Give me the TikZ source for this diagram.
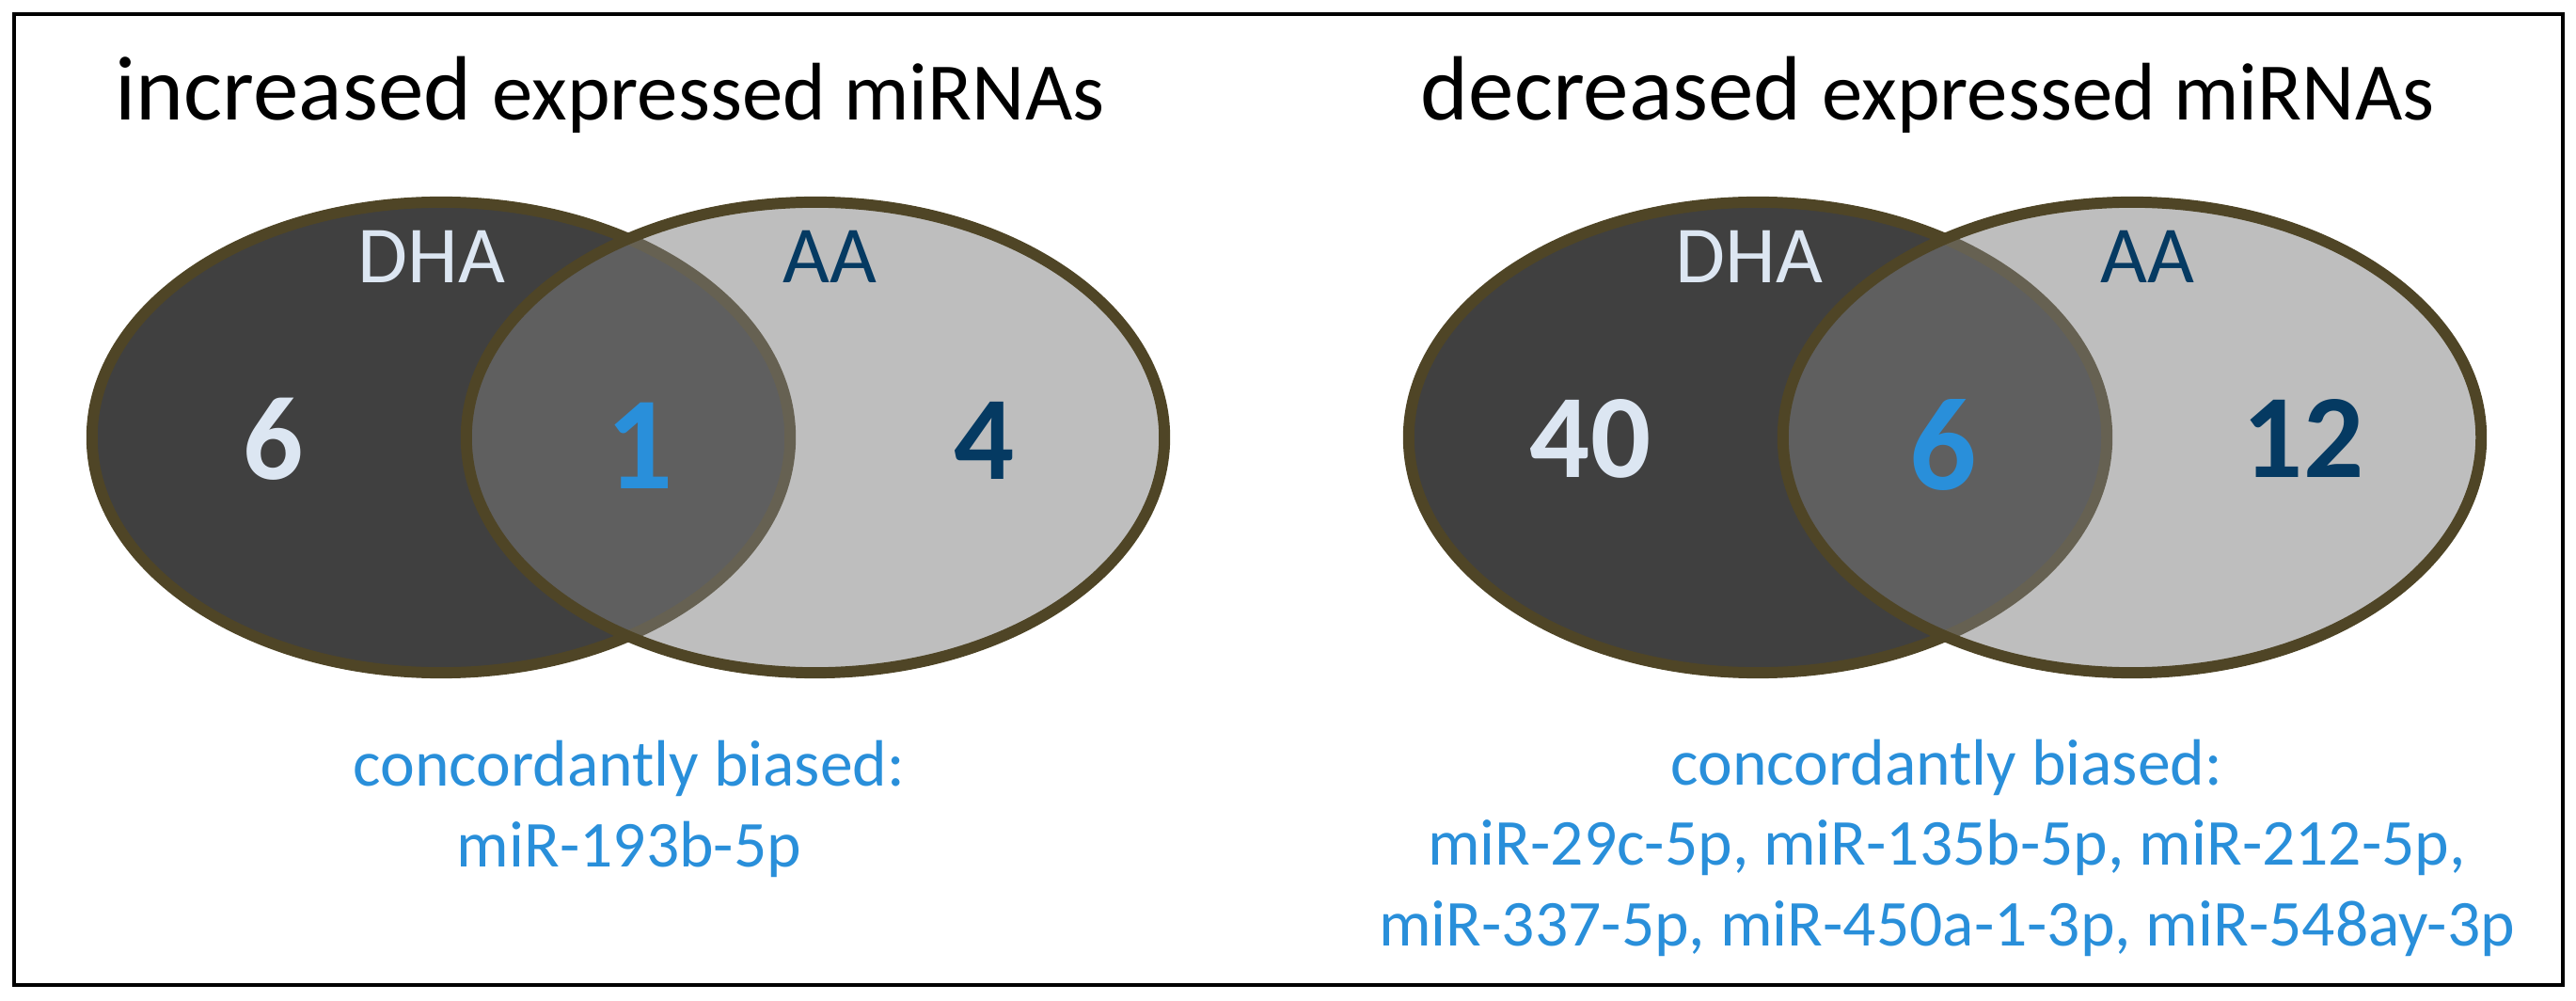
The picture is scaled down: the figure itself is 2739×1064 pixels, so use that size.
\documentclass[tikz,border=0pt]{standalone}
\usepackage{fontspec}
\setmainfont{Carlito}
\usetikzlibrary{shapes.geometric}
\definecolor{rimolive}{RGB}{79,69,38}
\definecolor{dhagray}{RGB}{64,64,64}
\definecolor{aagray}{RGB}{126,126,126}
\definecolor{palelabel}{RGB}{220,230,242}
\definecolor{navylabel}{RGB}{5,58,98}
\definecolor{brightblue}{RGB}{41,143,218}
\tikzset{
  every set/.style={
    ellipse,
    draw=rimolive,
    line width=3.4pt,
    minimum width=7.42cm,
    minimum height=5cm
  },
  dha set/.style={every set, fill=dhagray},
  aa set/.style={every set, fill=aagray, fill opacity=0.5, draw opacity=1},
}
\tikzstyle{title} = [anchor=base west, inner sep=0pt]
\tikzstyle{setname} = [anchor=base, inner sep=0pt, font=\fontsize{24.5}{29}\selectfont]
\tikzstyle{count} = [anchor=base, inner sep=0pt, font=\fontsize{36}{43}\selectfont\bfseries]
\tikzstyle{shared} = [count, font=\fontsize{40}{48}\selectfont\bfseries, text=brightblue]
\tikzstyle{biased} = [anchor=base, inner sep=0pt, align=center, text=brightblue, font=\fontsize{19.8}{24.2}\selectfont]

\begin{document}
\begin{tikzpicture}[x=0.01cm, y=-0.01cm]
        \useasboundingbox (0,0) rectangle (2739,1064);
        \draw [line width=0.9pt] (15,15) rectangle (2725,1047);

        % titles
        \node [title] (uptitle) at (122,128) {{\fontsize{27.6}{33}\selectfont increased }{\fontsize{24.7}{30}\selectfont expressed miRNAs}};
        \node [title] (downtitle) at (1510,128) {{\fontsize{27.6}{33}\selectfont decreased }{\fontsize{24.7}{30}\selectfont expressed miRNAs}};

        % sets
        \node [dha set] (updha) at (469,465) {};
        \node [aa set] (upaa) at (867,465) {};
        \node [dha set] (downdha) at (1869,465) {};
        \node [aa set] (downaa) at (2267,465) {};

        % set names
        \node [setname, text=palelabel] (updhaname) at (459,301) {DHA};
        \node [setname, text=navylabel] (upaaname) at (882,301) {AA};
        \node [setname, text=palelabel] (downdhaname) at (1860,301) {DHA};
        \node [setname, text=navylabel] (downaaname) at (2283,301) {AA};

        % counts
        \node [count, text=palelabel] (updhaonly) at (291,509) {6};
        \node [shared] (upboth) at (680,520) {1};
        \node [count, text=navylabel] (upaaonly) at (1047,509) {4};
        \node [count, text=palelabel] (downdhaonly) at (1691,508) {40};
        \node [shared] (downboth) at (2066,521) {6};
        \node [count, text=navylabel] (downaaonly) at (2449,508) {12};

        % concordant miRNAs (base = last line)
        \node [biased] (upbiased) at (669,921) {concordantly biased:\\miR-193b-5p};
        \node [biased] (downbiased) at (2070,1005) {concordantly biased:\\miR-29c-5p, miR-135b-5p, miR-212-5p,\\miR-337-5p, miR-450a-1-3p, miR-548ay-3p};
    \end{tikzpicture}
\end{document}
